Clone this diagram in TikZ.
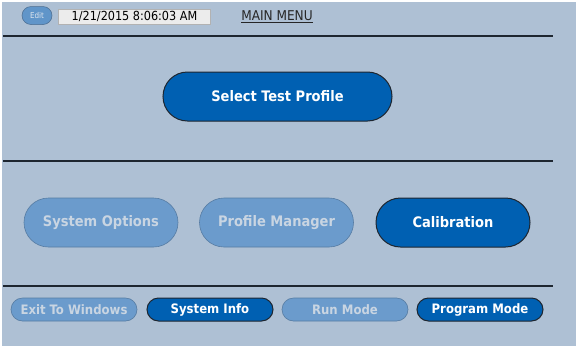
\documentclass[tikz,border=0pt]{standalone}
\usepackage{fontspec}
\setmainfont{DejaVu Sans Condensed}
\usetikzlibrary{shapes.misc}
\definecolor{bg}{HTML}{AEC0D4}
\definecolor{dark}{HTML}{0060B2}
\definecolor{light}{HTML}{6B9BCC}
\definecolor{lighttxt}{HTML}{C9D5E2}
\definecolor{rule}{HTML}{1E2630}
\tikzset{
  bigbtn/.style={rounded rectangle, minimum height=49pt, inner sep=0pt, font=\bfseries\fontsize{14.5}{16}\selectfont},
  smallbtn/.style={rounded rectangle, minimum width=126pt, minimum height=23pt, inner sep=0pt, font=\bfseries\fontsize{13}{14}\selectfont},
  on/.style={fill=dark, draw=rule, line width=1pt, text=white},
  off/.style={fill=light, draw=light!80!black, line width=0.6pt, text=lighttxt},
  sep/.style={draw=rule, line width=2pt}
}
\begin{document}
\begin{tikzpicture}[x=1pt,y=-1pt]
\useasboundingbox (0,0) rectangle (576,346);
\fill[white] (0,0) rectangle (576,346);
\fill[bg] (2,2) rectangle (576,346);
% rules
\coordinate (r1a) at (3,36); \coordinate (r1b) at (553,36);
\coordinate (r2a) at (3,161); \coordinate (r2b) at (553,161);
\coordinate (r3a) at (3,286); \coordinate (r3b) at (553,286);
\draw[sep] (r1a) -- (r1b);
\draw[sep] (r2a) -- (r2b);
\draw[sep] (r3a) -- (r3b);
% header
\node[rounded rectangle, fill=light!90!dark, draw=light!70!black, line width=0.5pt, minimum width=30pt, minimum height=18pt, inner sep=0pt, text=lighttxt!60!white, font=\fontsize{8}{9}\selectfont] (edit) at (37,15.5) {Edit};
\node[rectangle, fill=gray!15, draw=gray!60, line width=0.6pt, minimum width=152pt, minimum height=15pt, inner sep=0pt, font=\fontsize{12.5}{13}\selectfont] (date) at (134.5,16.5) {1/21/2015 8:06:03 AM};
\node[font=\fontsize{13.5}{14}\selectfont, inner sep=0pt, text=black!85] (menu) at (277,16.5) {\underline{MAIN MENU}};
% main button
\node[bigbtn, on, minimum width=229pt] (stp) at (277.5,96.5) {Select Test Profile};
% middle row
\node[bigbtn, off, minimum width=154pt] (sysopt) at (101,222.5) {System Options};
\node[bigbtn, off, minimum width=154pt] (profmgr) at (276.5,222.5) {Profile Manager};
\node[bigbtn, on, minimum width=154pt] (calib) at (453,222.5) {Calibration};
% bottom row
\node[smallbtn, off] (exitw) at (74,309.5) {Exit To Windows};
\node[smallbtn, on] (sysinfo) at (210,309.5) {System Info};
\node[smallbtn, off] (runmode) at (345,309.5) {Run Mode};
\node[smallbtn, on] (progmode) at (480,309.5) {Program Mode};
\end{tikzpicture}
\end{document}
